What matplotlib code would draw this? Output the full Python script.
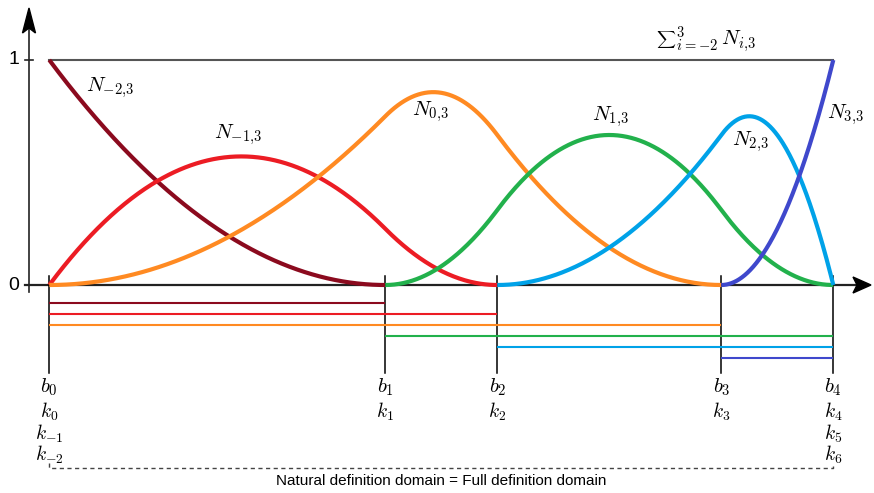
import numpy as np
import matplotlib
matplotlib.use("Agg")
import matplotlib.pyplot as plt
from matplotlib.patches import Polygon

plt.rcParams['mathtext.fontset'] = 'cm'

# Quadratic B-spline (order 3) on a clamped knot vector
degree = 2
knots = [0, 0, 0, 3, 4, 6, 7, 7, 7]
basis_index = [-2, -1, 0, 1, 2, 3]
colors = ['#8B0A1E', '#EC1C24', '#FF8A22', '#22B14C', '#00A2E8', '#3F48CC']
breakpoints = [0, 3, 4, 6, 7]
break_labels = [r'$b_0$', r'$b_1$', r'$b_2$', r'$b_3$', r'$b_4$']
knot_labels = [
    [r'$k_0$', r'$k_{-1}$', r'$k_{-2}$'],
    [r'$k_1$'],
    [r'$k_2$'],
    [r'$k_3$'],
    [r'$k_4$', r'$k_5$', r'$k_6$'],
]
label_pos = [(110, 88), (238, 135), (430, 112), (610, 117), (750, 142), (845, 115)]


def bspline_basis(i, p, t, x):
    """Cox-de Boor recursion, right end closed on the last non-empty span."""
    if p == 0:
        last = t[-1]
        val = ((x >= t[i]) & (x < t[i + 1])).astype(float)
        if t[i + 1] == last and t[i] < t[i + 1]:
            val[x == last] = 1.0
        return val
    out = np.zeros_like(x)
    d1 = t[i + p] - t[i]
    d2 = t[i + p + 1] - t[i + 1]
    if d1 > 0:
        out += (x - t[i]) / d1 * bspline_basis(i, p - 1, t, x)
    if d2 > 0:
        out += (t[i + p + 1] - x) / d2 * bspline_basis(i + 1, p - 1, t, x)
    return out


# pixel -> data helpers for the drawing frame
X0, SX = 49.3, 112.0
Y0, SY = 285.0, 225.0


def px(p):
    return (p - X0) / SX


def py(p):
    return (Y0 - p) / SY


FS = 15

fig = plt.figure(figsize=(8.74, 4.93), dpi=100)
ax = fig.add_axes([0, 0, 1, 1])
ax.set_xlim(px(0), px(874))
ax.set_ylim(py(493), py(0))
ax.axis('off')

# axes with arrow heads
axis_col = '#222222'
ax.plot([px(29), px(29)], [py(292), py(20)], color=axis_col, lw=1.2, zorder=2)
ax.plot([px(25), px(858)], [0, 0], color=axis_col, lw=1.6, zorder=2)
ax.add_patch(Polygon([(px(29), py(8)), (px(35.5), py(33)), (px(29), py(28)), (px(22.5), py(33))],
                     closed=True, color='black', zorder=3))
ax.add_patch(Polygon([(px(871), py(285)), (px(853), py(293)), (px(857), py(285)), (px(853), py(277))],
                     closed=True, color='black', zorder=3))
for v, s in [(0, '0'), (1, '1')]:
    ax.plot([px(25), px(33)], [v, v], color=axis_col, lw=1.2)
    ax.text(px(14), v, s, ha='center', va='center', fontsize=14,
            family='Liberation Sans')

# partition of unity line and its label (text-style sum)
ax.plot([breakpoints[0], breakpoints[-1]], [1, 1], color='#555555', lw=1.5, zorder=1)
ax.text(px(666), py(40), r'$\sum$', ha='center', va='center', fontsize=9.5)
ax.text(px(676), py(46), r'${}^{3}_{i=-2}\,N_{i{,}3}$', ha='left', va='baseline', fontsize=FS)

# basis functions, each over its own support
for j, (idx, col) in enumerate(zip(basis_index, colors)):
    lo, hi = knots[j], knots[j + degree + 1]
    x = np.linspace(lo, hi, 400)
    y = bspline_basis(j, degree, knots, x)
    ax.plot(x, y, color=col, lw=3, solid_capstyle='butt', zorder=4 + j)
    ax.text(px(label_pos[j][0]), py(label_pos[j][1]), r'$N_{%d{,}3}$' % idx,
            ha='center', va='center', fontsize=FS)

# support bars
bar_y = [303, 314, 325, 336, 347, 358]
for j, col in enumerate(colors):
    lo, hi = knots[j], knots[j + degree + 1]
    ax.plot([lo, hi], [py(bar_y[j])] * 2, color=col, lw=1.5, solid_capstyle='butt', zorder=3)

# breakpoint verticals and labels; knots stacked under each breakpoint
for b, bl, kl in zip(breakpoints, break_labels, knot_labels):
    ax.plot([b, b], [py(276), py(373)], color='black', lw=1.1, zorder=2)
    ax.text(b, py(387), bl, ha='center', va='center', fontsize=FS)
    ax.text(b, py(401), '\n'.join(kl), ha='center', va='top', fontsize=14,
            linespacing=0.95, multialignment='center')

# definition domain bracket
dash = dict(color='#444444', lw=1.0, ls=(0, (3, 2.5)))
ax.plot([breakpoints[0], breakpoints[0], breakpoints[-1], breakpoints[-1]],
        [py(463), py(468), py(468), py(463)], **dash)
ax.text((breakpoints[0] + breakpoints[-1]) / 2, py(481),
        'Natural definition domain = Full definition domain',
        ha='center', va='center', fontsize=11, family='Liberation Sans')

fig.savefig('out.png', dpi=100)
